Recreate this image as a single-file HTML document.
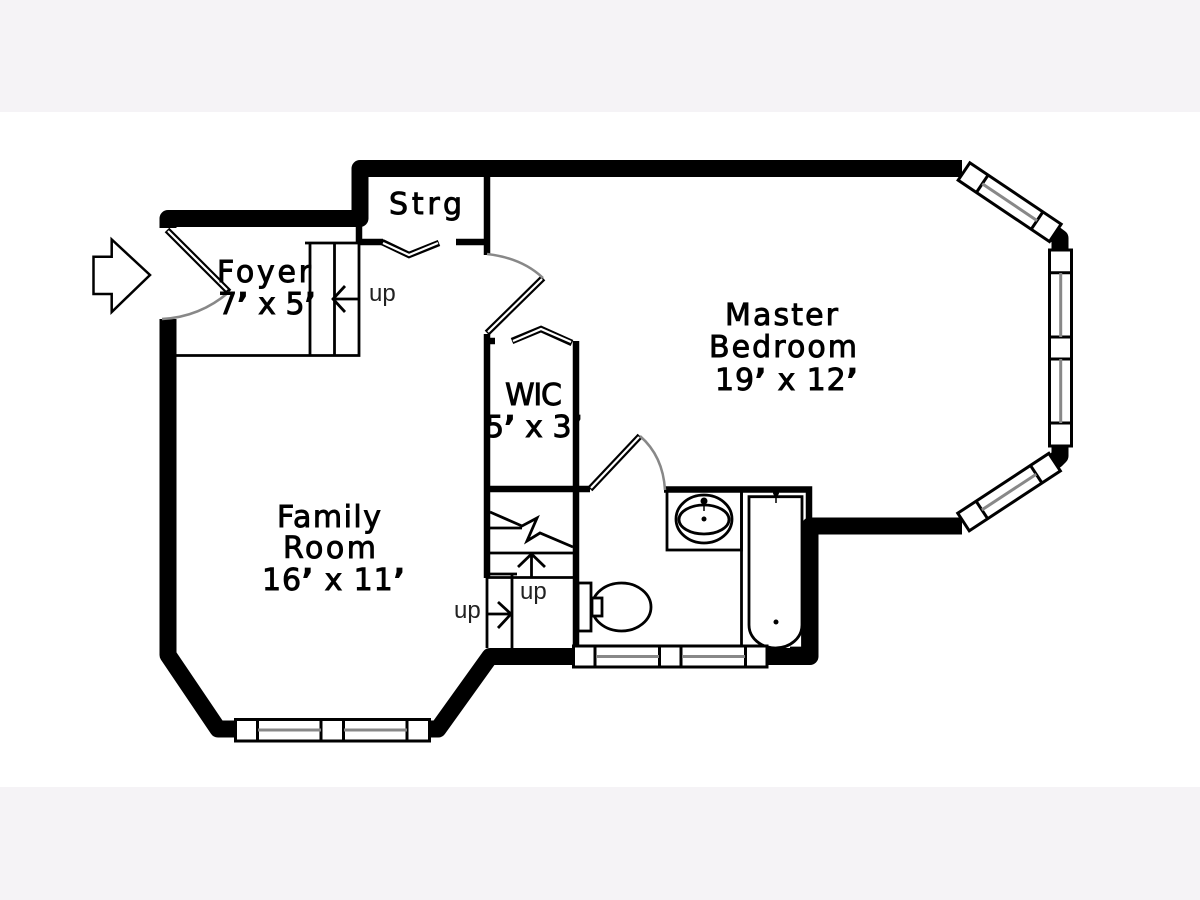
<!DOCTYPE html>
<html><head><meta charset="utf-8"><style>
html,body{margin:0;padding:0;background:#fff}
svg{display:block}
text{font-family:"DejaVu Sans","Liberation Sans",sans-serif;font-size:30px;fill:#000;stroke:#000;stroke-width:.9}
.u{font-family:"Liberation Sans",sans-serif;font-size:24px;stroke:none;fill:#222}
</style></head><body>
<svg width="1200" height="900" viewBox="0 0 1200 900" xmlns="http://www.w3.org/2000/svg">
<rect width="1200" height="900" fill="#fff"/>
<rect width="1200" height="112" fill="#f5f3f6"/>
<rect y="787" width="1200" height="113" fill="#f5f3f6"/>
<!-- thick walls -->
<g fill="none" stroke="#000" stroke-width="17" stroke-linejoin="round">
<path d="M168 228V218.500H360V168.500H962"/>
<path d="M168 319V655L218 729H238"/>
<path d="M428 729H438L490 656.500H578"/>
<path d="M962 526H810V656.500H765"/>
<path d="M1060 238V250"/>
<path d="M1060 444V456"/>
</g>
<path d="M1056 235L1060 238" stroke="#000" stroke-width="17" fill="none" stroke-linecap="round"/>
<path d="M1056 460L1060 456" stroke="#000" stroke-width="17" fill="none" stroke-linecap="round"/>
<!-- medium walls -->
<g fill="none" stroke="#000" stroke-width="6.500">
<path d="M359 226V243"/>
<path d="M360 242H383"/>
<path d="M456 242H487"/>
<path d="M487 177V255"/>
<path d="M487 334V578"/>
<path d="M487 341H495"/>
<path d="M576 341V650"/>
<path d="M487 489H590"/>
<path d="M664 489.500H809V520"/>
</g>
<!-- thin lines -->
<g fill="none" stroke="#000" stroke-width="2.800">
<path d="M305 243H359V355.500H176"/>
<path d="M310 243V355"/>
<path d="M334.500 243V355"/>
<path d="M359 299H335M345 286L333 299L345 312"/>
<path d="M490 512L522 526L537 518L527 541L540 533L573 547"/>
<path d="M490 528H522"/>
<path d="M490 553H574"/>
<path d="M487 577.500H574"/>
<path d="M531.500 577V555M518 567L531.500 554L545 567"/>
<path d="M487 574H517"/>
<path d="M512 574V648"/>
<path d="M487 576V648"/>
<path d="M487 614H511M498 602L511 614L498 628"/>
<rect x="578" y="583" width="13" height="48"/>
<ellipse cx="621.500" cy="607" rx="29.500" ry="24"/>
<rect x="592" y="598" width="10" height="18" fill="#fff"/>
<rect x="667" y="491" width="74.500" height="59"/>
<ellipse cx="704" cy="519" rx="28" ry="24"/>
<ellipse cx="704" cy="519.500" rx="25" ry="14.500"/>
<path d="M741.500 490V647"/>
<path d="M749 625V496.700H802V625C802 638 790 648 775.500 648C761 648 749 638 749 625Z"/>
<path d="M802.500 625V648H790"/>
</g>
<circle cx="704" cy="519" r="2.500"/>
<circle cx="704" cy="501" r="3.500"/>
<path d="M704 501V511" stroke="#000" stroke-width="1.500"/>
<circle cx="776" cy="493" r="3"/>
<path d="M776 493V503" stroke="#000" stroke-width="1.500"/>
<circle cx="776" cy="622" r="2.500"/>
<!-- door leaves -->
<g fill="none" stroke-linejoin="miter">
<path d="M167 230L229 292" stroke="#000" stroke-width="6.500"/><path d="M168 231L227 290" stroke="#fff" stroke-width="2.200"/>
<path d="M382 242L409 255L439 243" stroke="#000" stroke-width="6.500"/><path d="M383 243L409 255L438 243" stroke="#fff" stroke-width="2.200"/>
<path d="M487 333L543 278" stroke="#000" stroke-width="6.500"/><path d="M488 332L542 279" stroke="#fff" stroke-width="2.200"/>
<path d="M512 341L541 329L572 343" stroke="#000" stroke-width="6.500"/><path d="M513 341L541 329L571 342" stroke="#fff" stroke-width="2.200"/>
<path d="M590 489L640 436" stroke="#000" stroke-width="6.500"/><path d="M591 488L639 437" stroke="#fff" stroke-width="2.200"/>
</g>
<!-- arcs -->
<g fill="none" stroke="#888" stroke-width="2.500">
<path d="M162 319Q200 317 229 292"/>
<path d="M487 254Q522 258 543 278"/>
<path d="M640 436Q663 456 665 490"/>
</g>
<!-- entry arrow -->
<path d="M93.500 256.700H111.700V239.500L150 275L111.700 312V294H93.500Z" fill="#fff" stroke="#000" stroke-width="2.500"/>
<!-- windows -->
<g fill="#fff" stroke="#000" stroke-width="3">
<g>
<rect x="235.500" y="719.500" width="194" height="21.500"/>
<path d="M257.500 719V741M321 719V741M343.500 719V741M407 719V741"/>
<path d="M258 730H321M344 730H407" stroke="#888"/>
</g>
<g>
<rect x="573.500" y="646" width="193.500" height="21"/>
<path d="M595 646V667M659.500 646V667M681 646V667M745.500 646V667"/>
<path d="M596 656.500H659M682 656.500H745" stroke="#888"/>
</g>
<g>
<rect x="1049.500" y="250" width="22" height="196"/>
<path d="M1049 272.700H1072M1049 337H1072M1049 359H1072M1049 423H1072"/>
<path d="M1060.700 273V337M1060.700 359V423" stroke="#888"/>
</g>
<g transform="translate(964 171.500) rotate(33.900)">
<rect x="0" y="-10.500" width="110" height="21"/>
<path d="M22 -10.500V10.500M88 -10.500V10.500"/>
<path d="M22 0H88" stroke="#888"/>
</g>
<g transform="translate(963.500 522) rotate(-33.300)">
<rect x="0" y="-10.500" width="109" height="21"/>
<path d="M22 -10.500V10.500M87 -10.500V10.500"/>
<path d="M22 0H87" stroke="#888"/>
</g>
</g>
<!-- labels -->
<text x="725" y="325" textLength="113" lengthAdjust="spacing">Master</text>
<text x="709" y="357" textLength="148" lengthAdjust="spacing">Bedroom</text>
<text x="715" y="390" textLength="143" lengthAdjust="spacing">19<tspan font-weight="bold">’</tspan> x 12<tspan font-weight="bold">’</tspan></text>
<text x="277" y="527" textLength="104" lengthAdjust="spacing">Family</text>
<text x="283" y="558" textLength="93" lengthAdjust="spacing">Room</text>
<text x="262" y="590" textLength="143" lengthAdjust="spacing">16<tspan font-weight="bold">’</tspan> x 11<tspan font-weight="bold">’</tspan></text>
<text x="389" y="214" textLength="73" lengthAdjust="spacing">Strg</text>
<text x="217" y="282" textLength="94" lengthAdjust="spacing">Foyer</text>
<text x="218" y="314" textLength="98" lengthAdjust="spacing">7<tspan font-weight="bold">’</tspan> x 5<tspan font-weight="bold">’</tspan></text>
<text x="505" y="405" textLength="57" lengthAdjust="spacing">WIC</text>
<text x="485" y="437" textLength="98" lengthAdjust="spacing">5<tspan font-weight="bold">’</tspan> x 3<tspan font-weight="bold">’</tspan></text>
<text class="u" x="369" y="301">up</text>
<text class="u" x="454" y="618">up</text>
<text class="u" x="520" y="599">up</text>
</svg>
</body></html>
